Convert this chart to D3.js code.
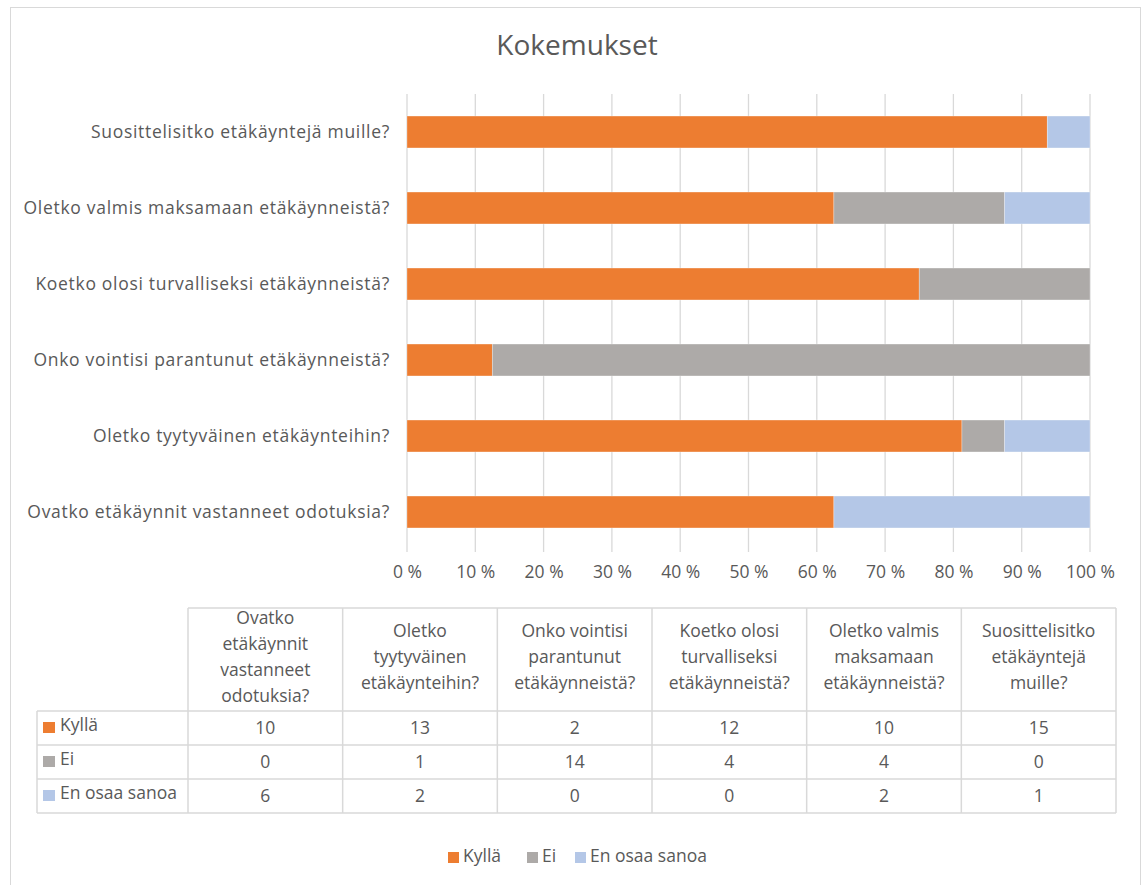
<!DOCTYPE html>
<html>
<head>
<meta charset="utf-8">
<script src="https://cdn.jsdelivr.net/npm/d3@7"></script>
<style>
  body { margin: 0; background: #fff; }
  svg text { font-family: 'Open Sans', 'Noto Sans', sans-serif; fill: #595959; }
</style>
</head>
<body>
<div id="chart"></div>
<script>
// categories in table order (bottom to top in the chart)
const categories = [
  'Ovatko etäkäynnit vastanneet odotuksia?',
  'Oletko tyytyväinen etäkäynteihin?',
  'Onko vointisi parantunut etäkäynneistä?',
  'Koetko olosi turvalliseksi etäkäynneistä?',
  'Oletko valmis maksamaan etäkäynneistä?',
  'Suosittelisitko etäkäyntejä muille?',
];
// wrapped header lines as shown in the data table
const headerLines = [
  ['Ovatko', 'etäkäynnit', 'vastanneet', 'odotuksia?'],
  ['Oletko', 'tyytyväinen', 'etäkäynteihin?'],
  ['Onko vointisi', 'parantunut', 'etäkäynneistä?'],
  ['Koetko olosi', 'turvalliseksi', 'etäkäynneistä?'],
  ['Oletko valmis', 'maksamaan', 'etäkäynneistä?'],
  ['Suosittelisitko', 'etäkäyntejä', 'muille?'],
];
const seriesNames = ['Kyllä', 'Ei', 'En osaa sanoa'];
const kylla = [10, 13, 2, 12, 10, 15];
const ei = [0, 1, 14, 4, 4, 0];
const enOsaa = [6, 2, 0, 0, 2, 1];
const colors = ['#ED7D31', '#ADAAA8', '#B4C7E7'];
const xTicks = [0, 0.1, 0.2, 0.3, 0.4, 0.5, 0.6, 0.7, 0.8, 0.9, 1];

const W = 1141, H = 885;
const FS = '17.5px';
const series = [kylla, ei, enOsaa];
const rows = categories.map((c, i) => ({
  cat: c, 'Kyllä': kylla[i], 'Ei': ei[i], 'En osaa sanoa': enOsaa[i],
}));

const svg = d3.select('#chart').append('svg')
  .attr('width', W).attr('height', H);

// chart frame
svg.append('rect')
  .attr('x', 10.5).attr('y', 7.5)
  .attr('width', 1130).attr('height', 900)
  .attr('fill', '#fff').attr('stroke', '#d9d9d9');

svg.append('text')
  .attr('x', 577).attr('y', 55)
  .attr('text-anchor', 'middle')
  .style('font-size', '28px')
  .text('Kokemukset');

// scales
const x = d3.scaleLinear().domain([0, 1]).range([407, 1090]);
const y = d3.scaleBand()
  .domain(categories.slice().reverse())
  .range([94, 550])
  .paddingInner(0.58).paddingOuter(0.29);

// gridlines
svg.append('g').selectAll('line')
  .data(xTicks)
  .join('line')
  .attr('x1', d => x(d)).attr('x2', d => x(d))
  .attr('y1', 94).attr('y2', 552)
  .attr('stroke', '#d9d9d9').attr('stroke-width', 1.3);

// stacked bars (normalised)
const stack = d3.stack().keys(seriesNames).offset(d3.stackOffsetExpand);
const layers = stack(rows);

svg.append('g').selectAll('g')
  .data(layers)
  .join('g')
  .attr('fill', (d, i) => colors[i])
  .selectAll('rect')
  .data(d => d)
  .join('rect')
  .attr('x', d => x(d[0]))
  .attr('width', d => x(d[1]) - x(d[0]))
  .attr('y', d => y(d.data.cat))
  .attr('height', y.bandwidth())
  .attr('stroke', '#fff').attr('stroke-opacity', 0.35).attr('stroke-width', 0.8);

// category axis
const axisY = d3.axisLeft(y).tickSize(0).tickPadding(0);
svg.append('g')
  .attr('transform', 'translate(390,0)')
  .call(axisY)
  .call(g => g.select('.domain').remove())
  .selectAll('text')
  .style('font-size', FS)
  .style('letter-spacing', '0.7px')
  .attr('fill', '#595959');

// percentage axis
const axisX = d3.axisBottom(x).tickValues(xTicks).tickSize(0).tickPadding(0)
  .tickFormat(d => `${Math.round(d * 100)} %`);
svg.append('g')
  .attr('transform', 'translate(0,566)')
  .call(axisX)
  .call(g => g.select('.domain').remove())
  .selectAll('text')
  .style('font-size', FS)
  .attr('fill', '#595959');

// data table
const colX = d3.scaleBand().domain(d3.range(categories.length)).range([188, 1116]);
const tableTop = 608, headerBottom = 711, rowH = 34;
const tableLeft = 37;
const grid = '#d9d9d9';
const tbl = svg.append('g')
  .attr('stroke', grid).attr('stroke-width', 1.5);

// horizontal lines
tbl.append('line').attr('x1', colX.range()[0]).attr('x2', colX.range()[1])
  .attr('y1', tableTop).attr('y2', tableTop);
tbl.selectAll('.hline')
  .data(d3.range(series.length + 1))
  .join('line')
  .attr('class', 'hline')
  .attr('x1', tableLeft).attr('x2', colX.range()[1])
  .attr('y1', i => headerBottom + i * rowH).attr('y2', i => headerBottom + i * rowH);
// vertical lines
tbl.append('line').attr('x1', tableLeft).attr('x2', tableLeft)
  .attr('y1', headerBottom).attr('y2', headerBottom + series.length * rowH);
tbl.selectAll('.vline')
  .data(d3.range(categories.length + 1))
  .join('line')
  .attr('class', 'vline')
  .attr('x1', i => colX.range()[0] + i * colX.bandwidth())
  .attr('x2', i => colX.range()[0] + i * colX.bandwidth())
  .attr('y1', tableTop).attr('y2', headerBottom + series.length * rowH);

// header text
const lineH = 26;
svg.append('g').selectAll('text')
  .data(headerLines)
  .join('text')
  .attr('text-anchor', 'middle')
  .style('font-size', FS)
  .each(function (lines, i) {
    const cx = colX(i) + colX.bandwidth() / 2;
    const y0 = 657 - (lines.length - 1) * lineH / 2 + 6;
    d3.select(this).selectAll('tspan')
      .data(lines)
      .join('tspan')
      .attr('x', cx)
      .attr('y', (l, j) => y0 + j * lineH)
      .text(l => l);
  });

// row labels with colour keys
const rowG = svg.append('g').selectAll('g')
  .data(seriesNames)
  .join('g')
  .attr('transform', (d, i) => `translate(0,${headerBottom + i * rowH})`);
rowG.append('rect')
  .attr('x', 43).attr('y', 11).attr('width', 12).attr('height', 11)
  .attr('fill', (d, i) => colors[i]);
rowG.append('text')
  .attr('x', 60).attr('y', 20)
  .style('font-size', FS)
  .text(d => d);

// values
rowG.each(function (name, si) {
  d3.select(this).selectAll('.val')
    .data(series[si])
    .join('text')
    .attr('class', 'val')
    .attr('x', (v, i) => colX(i) + colX.bandwidth() / 2)
    .attr('y', 23)
    .attr('text-anchor', 'middle')
    .style('font-size', FS)
    .text(v => v);
});

// legend
const legendX = [448, 527, 575];
const legend = svg.append('g').selectAll('g')
  .data(seriesNames)
  .join('g')
  .attr('transform', (d, i) => `translate(${legendX[i]},852)`);
legend.append('rect')
  .attr('width', 11).attr('height', 11)
  .attr('fill', (d, i) => colors[i]);
legend.append('text')
  .attr('x', 15).attr('y', 10)
  .style('font-size', FS)
  .text(d => d);
</script>
</body>
</html>
